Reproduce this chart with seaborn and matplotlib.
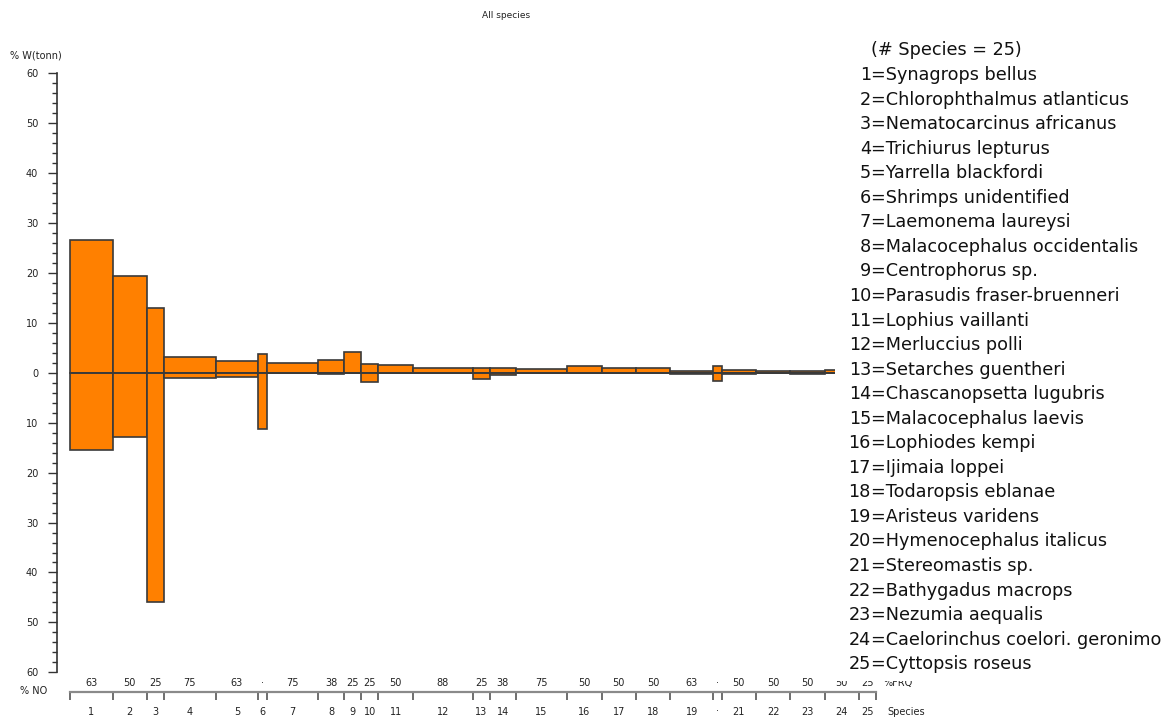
import numpy as np
import pandas as pd
import matplotlib
matplotlib.use("Agg")
import matplotlib.pyplot as plt
import seaborn as sns
from matplotlib.patches import Rectangle

# ---------------- data ----------------
species_ids = list(range(1, 26))
species_names = [
    "Synagrops bellus", "Chlorophthalmus atlanticus", "Nematocarcinus africanus",
    "Trichiurus lepturus", "Yarrella blackfordi", "Shrimps unidentified",
    "Laemonema laureysi", "Malacocephalus occidentalis", "Centrophorus sp.",
    "Parasudis fraser-bruenneri", "Lophius vaillanti", "Merluccius polli",
    "Setarches guentheri", "Chascanopsetta lugubris", "Malacocephalus laevis",
    "Lophiodes kempi", "Ijimaia loppei", "Todaropsis eblanae", "Aristeus varidens",
    "Hymenocephalus italicus", "Stereomastis sp.", "Bathygadus macrops",
    "Nezumia aequalis", "Caelorinchus coelori. geronimo", "Cyttopsis roseus",
]
freq_pct = [62.5, 50, 25, 75, 62.5, 12.5, 75, 37.5, 25, 25, 50, 87.5, 25,
            37.5, 75, 50, 50, 50, 62.5, 12.5, 50, 50, 50, 50, 25]
weight_pct = [26.6, 19.3, 12.9, 3.2, 2.4, 3.7, 1.9, 2.6, 4.1, 1.7, 1.5, 0.9, 1.0,
              1.0, 0.7, 1.3, 1.0, 0.9, 0.3, 1.4, 0.5, 0.45, 0.45, 0.5, 0.3]
number_pct = [15.5, 12.9, 46.0, 1.1, 0.9, 11.2, 0.1, 0.15, 0.05, 1.9, 0.05, 0.1, 1.3,
              0.5, 0.05, 0.05, 0.05, 0.05, 0.2, 1.6, 0.15, 0.05, 0.2, 0.1, 0.1]
y_ticks = list(range(-60, 61, 10))

# ---------------- style ----------------
sns.set_style("ticks")
plt.rcParams['font.family'] = ['DejaVu Sans']

W, H = 1173, 720
fig = plt.figure(figsize=(W / 100, H / 100), dpi=100)
fig.patch.set_facecolor("white")

px_axis_x, px_bar0, px_bar1 = 57.0, 69.7, 876.0
px_top, px_bot = 73.3, 672.3
ax = fig.add_axes([px_axis_x / W, 1 - px_bot / H, (px_bar1 - px_axis_x) / W, (px_bot - px_top) / H])

edges = np.concatenate([[0.0], np.cumsum(freq_pct)])
centers = (edges[:-1] + edges[1:]) / 2
df = pd.DataFrame({"center": centers, "w": weight_pct, "no": -np.asarray(number_pct)})

orange = "#FF8000"
edge_col = "#3a3a3a"
for col in ["w", "no"]:
    sns.histplot(data=df, x="center", weights=col, bins=[float(e) for e in edges], stat="count",
                 color=orange, edgecolor=edge_col, linewidth=1.2, alpha=1, ax=ax)
ax.hlines(0, edges[0], edges[-1], color=edge_col, lw=1.2, zorder=3)

scale = (px_bar1 - px_bar0) / edges[-1]
ax.set_xlim(-(px_bar0 - px_axis_x) / scale, edges[-1])
ax.set_ylim(-60, 60)
ax.set_xlabel("")
ax.set_ylabel("")

# y axis
ax.set_yticks(y_ticks)
ax.set_yticklabels([str(abs(t)) for t in y_ticks])
ax.set_yticks(np.arange(-60, 61, 2), minor=True)
ax.tick_params(axis="y", which="major", length=6.5, width=1.0, color="#333333",
               labelsize=7, labelcolor="#222222", pad=7)
ax.tick_params(axis="y", which="minor", length=3.5, width=1.0, color="#333333")
ax.spines["left"].set_color("#333333")
ax.spines["left"].set_linewidth(1.2)
ax.spines["top"].set_visible(False)
ax.spines["right"].set_visible(False)

# x (species / frequency) axis
ax.spines["bottom"].set_position(("outward", 19.7 * 72 / 100))
ax.spines["bottom"].set_bounds(edges[0], edges[-1])
ax.spines["bottom"].set_color("#8a8a8a")
ax.spines["bottom"].set_linewidth(1.6)
ax.set_xticks(edges)
ax.set_xticklabels([])
sp_labels = [str(n) if (n < 10 or f >= 25) else "\u00b7" for n, f in zip(species_ids, freq_pct)]
ax.set_xticks(centers, minor=True)
ax.set_xticklabels(sp_labels, minor=True)
ax.tick_params(axis="x", which="major", length=6, width=1.2, color="#555555")
ax.tick_params(axis="x", which="minor", length=0, labelsize=7, labelcolor="#222222", pad=10.5)

def fy(py):
    return 1 - py / H

def fx(px):
    return px / W

# frequency labels above the species axis
trans = ax.get_xaxis_transform()
frac_freq = -(683.0 - px_bot) / (px_bot - px_top)
for c, f in zip(centers, freq_pct):
    lab = str(int(f + 0.5)) if f >= 25 else "\u00b7"
    ax.text(c, frac_freq, lab, transform=trans, ha="center", va="center",
            fontsize=7, color="#222222", clip_on=False)

# other labels
fig.text(fx(506), fy(16), "All species", ha="center", va="center", fontsize=6.5, color="#222222")
fig.text(fx(10), fy(55), "% W(tonn)", ha="left", va="center", fontsize=7, color="#222222")
fig.text(fx(20), fy(691), "% NO", ha="left", va="center", fontsize=7, color="#222222")
fig.text(fx(884), fy(683), "%FRQ", ha="left", va="center", fontsize=7, color="#222222", zorder=1)
fig.text(fx(887), fy(712), "Species", ha="left", va="center", fontsize=7, color="#222222", zorder=1)

# legend block (white box over the plot's right end)
fig.patches.append(Rectangle((fx(835), fy(681)), 1 - fx(835), fy(28) - fy(681),
                             transform=fig.transFigure, facecolor="white",
                             edgecolor="none", zorder=5))
leg_fs = 12.7
eq_x = 871
fig.text(fx(871), fy(50), "(# Species = 25)", ha="left", va="center",
         fontsize=leg_fs, color="#111111", zorder=6)
for i, (n, name) in enumerate(zip(species_ids, species_names)):
    y = 75 + i * 24.55
    fig.text(fx(eq_x), fy(y), str(n), ha="right", va="center", fontsize=leg_fs,
             color="#111111", zorder=6)
    fig.text(fx(eq_x), fy(y), "=" + name, ha="left", va="center", fontsize=leg_fs,
             color="#111111", zorder=6)

fig.savefig("out.png", dpi=100, facecolor="white")
